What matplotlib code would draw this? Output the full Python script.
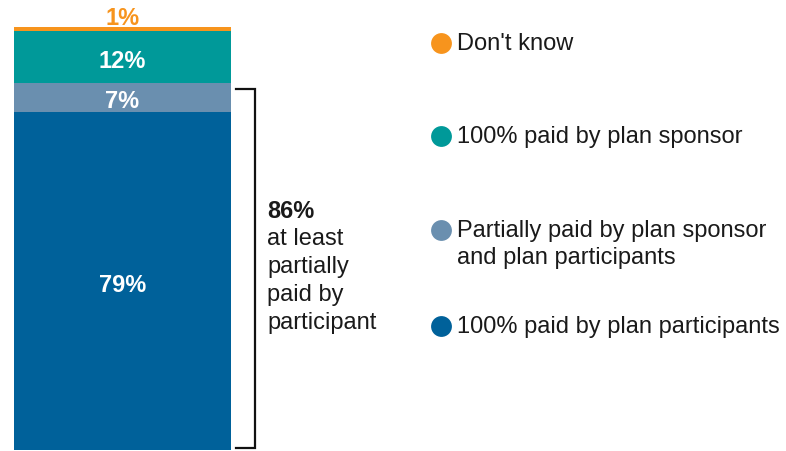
import matplotlib.pyplot as plt

plt.rcParams['font.family'] = ['Liberation Sans', 'DejaVu Sans']

# stacked from the bottom up
categories = ['100% paid by plan participants',
              'Partially paid by plan sponsor\nand plan participants',
              '100% paid by plan sponsor',
              "Don't know"]
shares = [79, 7, 12, 1]
colors = ['#00619a', '#6a8faf', '#009999', '#f7941d']
legend_y = [326, 230, 136, 43]  # legend row centres, px from top

bracket_total = shares[0] + shares[1]
bracket_text = 'at least\npartially\npaid by\nparticipant'

FS = 17
fig = plt.figure(figsize=(7.86, 4.51), dpi=100)
W, H = 786, 451

# bar axes: one stacked column
ax = fig.add_axes([14 / W, 1 / H, 217 / W, 423 / H])
bottom = 0
for val, col in zip(shares, colors):
    ax.bar(0, val, bottom=bottom, width=1, color=col, edgecolor='none')
    if val >= 5:
        ax.annotate(f'{val}%', (0, bottom + val / 2), xytext=(0, -3),
                    textcoords='offset points', ha='center', va='center',
                    color='white', fontsize=FS, fontweight='bold')
    else:
        ax.text(0, bottom + val - 0.7, f'{val}%', ha='center', va='bottom',
                color=col, fontsize=FS, fontweight='bold', clip_on=False)
    bottom += val
ax.set_xlim(-0.5, 0.5)
ax.set_ylim(0, sum(shares))
ax.axis('off')

# bracket around the participant-paid share
bx0, bx1 = 1.023, 1.111
tr = ax.get_yaxis_transform()
ax.plot([bx0, bx1, bx1, bx0], [bracket_total - 1.6, bracket_total - 1.6, 0.5, 0.5],
        transform=tr, color='#111111', lw=1.6, clip_on=False,
        solid_joinstyle='miter')

# overlay in pixel units for the side text and legend
ov = fig.add_axes([0, 0, 1, 1])
ov.set_xlim(0, W)
ov.set_ylim(H, 0)
ov.axis('off')

ov.text(267, 211, f'{bracket_total}%', ha='left', va='center',
        fontsize=FS, fontweight='bold', color='#1a1a1a')
ov.text(267, 228, bracket_text, ha='left', va='top', fontsize=FS,
        color='#1a1a1a', linespacing=1.36)

for lab, col, y in zip(categories, colors, legend_y):
    ov.plot(441, y, 'o', ms=15, color=col, mec='none')
    ov.text(457, y - 10, lab, ha='left', va='top', fontsize=FS,
            color='#1a1a1a', linespacing=1.32)

fig.savefig('out.png', dpi=100)
